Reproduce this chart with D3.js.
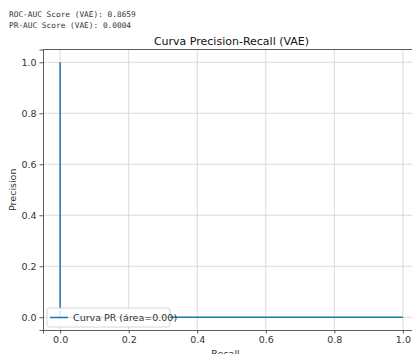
<!DOCTYPE html>
<html>
<head>
<meta charset="utf-8">
<script src="https://cdn.jsdelivr.net/npm/d3@7"></script>
<style>
  body { margin: 0; background: #fff; overflow: hidden; }
  svg { display: block; font-family: "DejaVu Sans", sans-serif; }
</style>
</head>
<body>
<svg width="412" height="354"></svg>
<script>
// PR curve points
const recall = [0, 0, 0.0, 1.0];
const precision = [1.0, 0.5, 0.0004, 0.0004];
const xTicks = [0, 0.2, 0.4, 0.6, 0.8, 1.0];
const yTicks = [0, 0.2, 0.4, 0.6, 0.8, 1.0];
const printed = ["ROC-AUC Score (VAE): 0.8659", "PR-AUC Score (VAE): 0.0004"];
const legendLabel = "Curva PR (área=0.00)";

const svg = d3.select("svg");
const mLeft = 43, mRight = 420, mTop = 49.5, mBottom = 330;

const x = d3.scaleLinear().domain([-0.05, 1.05]).range([mLeft, mRight]);
const y = d3.scaleLinear().domain([-0.05, 1.05]).range([mBottom, mTop]);

// printed output above the figure
svg.selectAll("text.out")
  .data(printed)
  .enter()
  .append("text")
  .attr("class", "out")
  .attr("x", 9)
  .attr("y", (d, i) => 17 + i * 10.5)
  .attr("font-family", "DejaVu Sans Mono, monospace")
  .attr("font-size", 7.8)
  .attr("fill", "#333")
  .text(d => d);

// grid
svg.append("g")
  .selectAll("line")
  .data(xTicks)
  .enter()
  .append("line")
  .attr("x1", d => x(d)).attr("x2", d => x(d))
  .attr("y1", mTop).attr("y2", mBottom)
  .attr("stroke", "#d0d0d0").attr("stroke-width", 0.8);

svg.append("g")
  .selectAll("line")
  .data(yTicks)
  .enter()
  .append("line")
  .attr("x1", mLeft).attr("x2", mRight)
  .attr("y1", d => y(d)).attr("y2", d => y(d))
  .attr("stroke", "#d0d0d0").attr("stroke-width", 0.8);

// curve
const line = d3.line()
  .x(d => x(d[0]))
  .y(d => y(d[1]));

svg.append("path")
  .datum(recall.map((r, i) => [r, precision[i]]))
  .attr("d", line)
  .attr("fill", "none")
  .attr("stroke", "#1f77b4")
  .attr("stroke-width", 1.5);

// axes
const xAxis = svg.append("g")
  .attr("transform", `translate(0,${mBottom})`)
  .call(d3.axisBottom(x).tickValues(xTicks).tickFormat(d3.format(".1f")).tickSize(3.5).tickPadding(3));
const yAxis = svg.append("g")
  .attr("transform", `translate(${mLeft},0)`)
  .call(d3.axisLeft(y).tickValues(yTicks).tickFormat(d3.format(".1f")).tickSize(3.5).tickPadding(3));

[xAxis, yAxis].forEach(g => {
  g.select(".domain").attr("stroke", "#333").attr("stroke-width", 0.8);
  g.selectAll(".tick line").attr("stroke", "#333").attr("stroke-width", 0.8);
  g.selectAll(".tick text").attr("font-size", 9.5).attr("fill", "#333")
    .attr("font-family", "DejaVu Sans, sans-serif");
});

// top spine
svg.append("line")
  .attr("x1", mLeft).attr("x2", mRight)
  .attr("y1", mTop).attr("y2", mTop)
  .attr("stroke", "#333").attr("stroke-width", 0.8);

// title and labels
svg.append("text")
  .attr("x", (mLeft + mRight) / 2)
  .attr("y", 45)
  .attr("text-anchor", "middle")
  .attr("font-size", 11)
  .attr("fill", "#111")
  .text("Curva Precision-Recall (VAE)");

svg.append("text")
  .attr("x", (mLeft + mRight) / 2 - 6)
  .attr("y", 357)
  .attr("text-anchor", "middle")
  .attr("font-size", 9.5)
  .attr("fill", "#333")
  .text("Recall");

svg.append("text")
  .attr("transform", `translate(16,${(mTop + mBottom) / 2}) rotate(-90)`)
  .attr("text-anchor", "middle")
  .attr("font-size", 9.5)
  .attr("fill", "#333")
  .text("Precision");

// legend
const lg = svg.append("g").attr("transform", "translate(47,308)");
lg.append("rect")
  .attr("width", 123).attr("height", 19).attr("rx", 2)
  .attr("fill", "#fff").attr("fill-opacity", 0.85)
  .attr("stroke", "#ccc").attr("stroke-width", 0.8);
lg.append("line")
  .attr("x1", 3).attr("x2", 21).attr("y1", 9.5).attr("y2", 9.5)
  .attr("stroke", "#1f77b4").attr("stroke-width", 1.5);
lg.append("text")
  .attr("x", 26).attr("y", 13)
  .attr("font-size", 9.5).attr("fill", "#333")
  .text(legendLabel);
</script>
</body>
</html>
